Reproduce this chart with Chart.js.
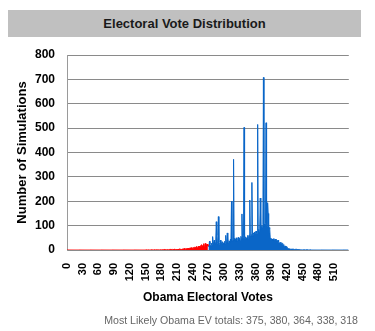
<!DOCTYPE html>
<html>
<head>
<meta charset="utf-8">
<script src="https://cdn.jsdelivr.net/npm/chart.js@4"></script>
<style>
body { margin: 0; background: #fff; font-family: Arial, 'Liberation Sans', sans-serif; }
#wrap { position: relative; width: 375px; height: 331px; }
#banner { position: absolute; left: 8px; top: 10px; width: 353px; height: 27px; background: #c0c0c0;
  font-weight: bold; font-size: 13px; line-height: 27px; text-align: center; color: #1a1a1a; }
#box { position: absolute; left: 0; top: 0; width: 375px; height: 331px; }
#note { position: absolute; right: 17px; top: 314px; font-size: 10.6px; line-height: 13px; color: #666; white-space: nowrap; }
</style>
</head>
<body>
<div id="wrap">
  <div id="banner">Electoral Vote Distribution</div>
  <div id="box"><canvas id="evChart"></canvas></div>
  <div id="note">Most Likely Obama EV totals: 375, 380, 364, 338, 318</div>
</div>
<script>
// Obama EV 0..269 (red) - number of simulations
const redCounts = [
  0,0,0,0,0,0,0,0,0,0, 0,0,0,0,0,0,0,0,0,0, 0,0,0,0,0,0,0,0,0,0,
  0,0,0,0,0,0,0,0,0,0, 0,0,0,0,0,0,0,0,0,0, 0,0,0,0,0,0,0,0,0,0,
  0,0,0,0,0,0,0,0,0,0, 0,0,0,0,0,0,0,0,0,0, 0,0,0,0,0,0,0,0,0,0,
  0,0,0,0,0,0,0,0,0,0, 0,0,0,0,0,0,0,0,0,0, 0,0,0,0,0,0,0,0,0,0,
  0,0,0,0,0,0,0,0,0,0, 0,0,0,0,0,0,0,0,0,0, 0,0,0,0,0,0,0,0,0,0,
  0,0,1,0,0,0,1,0,0,0,      // 150
  0,1,0,0,1,0,0,1,0,0,      // 160
  1,0,0,1,0,1,0,0,1,0,      // 170
  0,1,1,0,1,0,2,0,1,1,      // 180
  1,0,2,1,0,2,1,3,1,2,      // 190
  2,1,3,2,1,4,2,1,3,2,      // 200
  3,2,4,1,3,5,2,4,3,2,      // 210
  4,3,5,2,6,4,3,6,5,4,      // 220
  6,5,8,4,7,9,5,8,10,6,     // 230
  9,7,11,8,12,10,9,14,11,8, // 240
  12,15,10,16,13,18,14,22,17,12, // 250
  20,26,15,18,27,14,22,19,24,16  // 260
];

// Obama EV 270..538 (blue)
const blueCounts = [
  18,14,36,22,16,20,28,24,55,30,      // 270
  26,40,22,30,34,116,60,28,36,137,    // 280
  32,24,28,40,22,30,26,34,28,24,      // 290
  30,36,26,60,32,28,70,34,30,38,      // 300
  36,30,44,34,200,40,36,42,372,48,    // 310
  38,44,36,50,42,38,46,52,40,48,      // 320
  44,40,56,46,148,50,44,58,503,52,    // 330
  46,54,48,44,52,60,48,56,62,205,     // 340
  58,54,64,277,60,56,70,66,74,68,     // 350
  72,78,70,66,515,80,84,76,90,213,    // 360
  86,94,100,92,104,708,98,106,100,110,// 370
  522,104,96,194,150,95,92,88,48,44,  // 380
  46,42,45,40,44,47,42,38,44,40,      // 390
  42,38,36,40,32,30,28,31,29,27,      // 400
  30,26,24,22,18,15,14,16,12,13,      // 410
  10,8,6,5,4,5,3,4,4,3,               // 420
  4,3,3,4,2,3,3,2,3,2,                // 430
  2,3,2,1,2,1,1,0,1,0,                // 440
  0,1,0,1,1,0,1,1,0,1,                // 450
  1,0,1,0,1,1,0,0,0,0,                // 460
  0,0,0,0,0,0,0,0,0,0,                // 470
  0,0,0,0,0,0,0,0,0,0,                // 480
  0,0,0,0,0,0,0,0,0,0,                // 490
  0,0,0,0,0,0,0,0,0,0,                // 500
  0,0,0,0,0,0,0,0,0,0,                // 510
  0,0,0,0,0,0,0,0,0,0,                // 520
  0,0,0,0,0,0,0,0,0                   // 530..538
];

const yTicks = [0, 100, 200, 300, 400, 500, 600, 700, 800];
const xTickStep = 30;

const evLabels = [];
for (let ev = 0; ev <= 538; ev++) evLabels.push(ev);

const redData = evLabels.map(ev => ev < 270 ? redCounts[ev] : null);
const blueData = evLabels.map(ev => ev >= 270 ? blueCounts[ev - 270] : null);

const ctx = document.getElementById('evChart');
new Chart(ctx, {
    type: 'line',
    data: {
        labels: evLabels,
        datasets: [
            { label: 'McCain win', data: redData, borderColor: '#ff0000', backgroundColor: '#ff0000',
              fill: 'origin', borderWidth: 1, pointRadius: 0, tension: 0 },
            { label: 'Obama win', data: blueData, borderColor: '#0a66c8', backgroundColor: '#0a66c8',
              fill: 'origin', borderWidth: 1, pointRadius: 0, tension: 0 }
        ]
    },
    options: {
        responsive: true,
        maintainAspectRatio: false,
        animation: false,
        events: [],
        layout: { padding: { top: 55, right: 23, bottom: 0, left: 0 } },
        plugins: { legend: { display: false }, tooltip: { enabled: false } },
        scales: {
            x: {
                afterFit: s => { s.height = 81; },
                grid: { display: false, drawTicks: false },
                border: { display: false },
                ticks: {
                    autoSkip: false,
                    minRotation: 90,
                    maxRotation: 90,
                    padding: 13,
                    color: '#000',
                    font: { family: 'Arial, "Liberation Sans"', size: 11, weight: 'bold' },
                    callback: (v, i) => evLabels[i] % xTickStep === 0 ? String(evLabels[i]) : ''
                },
                title: {
                    display: true,
                    text: 'Obama Electoral Votes',
                    color: '#000',
                    padding: { top: 0, bottom: 26 },
                    font: { family: 'Arial, "Liberation Sans"', size: 12, weight: 'bold' }
                }
            },
            y: {
                min: yTicks[0],
                max: yTicks[yTicks.length - 1],
                afterFit: s => { s.width = 67; },
                afterBuildTicks: s => { s.ticks = yTicks.map(v => ({ value: v })); },
                grid: { color: '#8a8a8a', drawTicks: false },
                border: { color: '#9a9a9a' },
                ticks: {
                    padding: 12,
                    color: '#000',
                    font: { family: 'Arial, "Liberation Sans"', size: 12, weight: 'bold' }
                },
                title: {
                    display: true,
                    text: 'Number of Simulations',
                    color: '#000',
                    padding: { top: 15, bottom: 0 },
                    font: { family: 'Arial, "Liberation Sans"', size: 13, weight: 'bold' }
                }
            }
        }
    }
});
</script>
</body>
</html>
